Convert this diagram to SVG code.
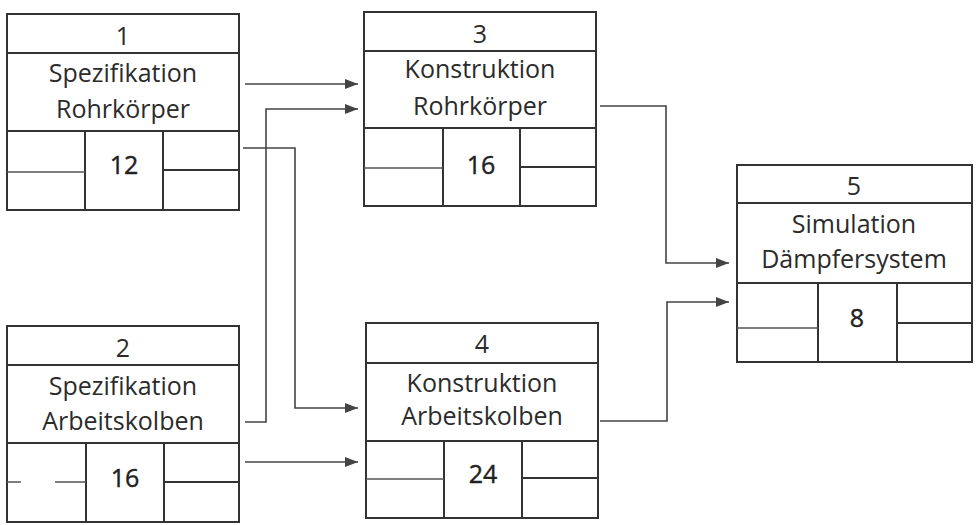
<svg xmlns="http://www.w3.org/2000/svg" width="978" height="525" viewBox="0 0 978 525">
<defs>
<style>
.box{fill:#fff;stroke:#333;stroke-width:2}
.ln{stroke:#333;stroke-width:2;fill:none}
.lt{stroke:#555;stroke-width:1.5;fill:none}
.t{font-family:"Open Sans",Lato,sans-serif;font-size:25px;fill:#2b2b2b;text-anchor:middle;font-variant-ligatures:none}
.n{fill:#222;stroke:#222;stroke-width:0.4}
.c{stroke:#444;stroke-width:1.6;fill:none}
</style>
<marker id="ah" viewBox="0 0 13 10" refX="13" refY="5" markerWidth="13" markerHeight="10" markerUnits="userSpaceOnUse" orient="auto">
<path d="M0,0 L13,5 L0,10 Z" fill="#444"/>
</marker>
</defs>
<rect width="978" height="525" fill="#fff"/>
<g id="connectors">
<path class="c" d="M245,84 H358" marker-end="url(#ah)"/>
<path class="c" d="M245,422 H266 V109 H358" marker-end="url(#ah)"/>
<path class="c" d="M243,148 H295 V408 H358" marker-end="url(#ah)"/>
<path class="c" d="M245,462 H358" marker-end="url(#ah)"/>
<path class="c" d="M600,106 H666 V263 H729" marker-end="url(#ah)"/>
<path class="c" d="M600,421 H667 V302 H729" marker-end="url(#ah)"/>
</g>
<g id="node1" transform="translate(7,14)">
<rect class="box" x="0" y="0" width="232" height="196"/>
<path class="ln" d="M0,39 H232 M0,117 H232 M78,117 V196 M156,117 V196 M156,156 H232"/>
<path class="lt" d="M0,158 H78"/>
<text class="t" x="116" y="31">1</text>
<text class="t" x="116" y="68">Spezifikation</text>
<text class="t" x="116" y="104">Rohrkörper</text>
<text class="t n" x="117" y="160">12</text>
</g>
<g id="node2" transform="translate(7,326)">
<rect class="box" x="0" y="0" width="232" height="196"/>
<path class="ln" d="M0,39 H232 M0,117 H232 M79,117 V196 M157,117 V196 M157,156 H232"/>
<path class="lt" d="M0,156 H14 M48,156 H79"/>
<text class="t" x="116" y="31">2</text>
<text class="t" x="116" y="69">Spezifikation</text>
<text class="t" x="116" y="104">Arbeitskolben</text>
<text class="t n" x="118" y="161">16</text>
</g>
<g id="node3" transform="translate(364,12)">
<rect class="box" x="0" y="0" width="232" height="194"/>
<path class="ln" d="M0,39 H232 M0,116 H232 M79,116 V194 M156,116 V194 M156,155 H232"/>
<path class="lt" d="M0,156 H79"/>
<text class="t" x="116" y="31">3</text>
<text class="t" x="116" y="66">Konstruktion</text>
<text class="t" x="116" y="103">Rohrkörper</text>
<text class="t n" x="117" y="162">16</text>
</g>
<g id="node4" transform="translate(366,323)">
<rect class="box" x="0" y="0" width="232" height="195"/>
<path class="ln" d="M0,40 H232 M0,118 H232 M78,118 V195 M156,118 V195 M156,155 H232"/>
<path class="lt" d="M0,156 H78"/>
<text class="t" x="116" y="30">4</text>
<text class="t" x="116" y="69">Konstruktion</text>
<text class="t" x="116" y="102">Arbeitskolben</text>
<text class="t n" x="117" y="160">24</text>
</g>
<g id="node5" transform="translate(737,165)">
<rect class="box" x="0" y="0" width="235" height="197"/>
<path class="ln" d="M0,38 H235 M0,118 H235 M81,118 V197 M160,118 V197 M160,158 H235"/>
<path class="lt" d="M0,163 H81"/>
<text class="t" x="117" y="30">5</text>
<text class="t" x="117" y="68">Simulation</text>
<text class="t" x="117" y="103">Dämpfersystem</text>
<text class="t n" x="120" y="162">8</text>
</g>
</svg>
